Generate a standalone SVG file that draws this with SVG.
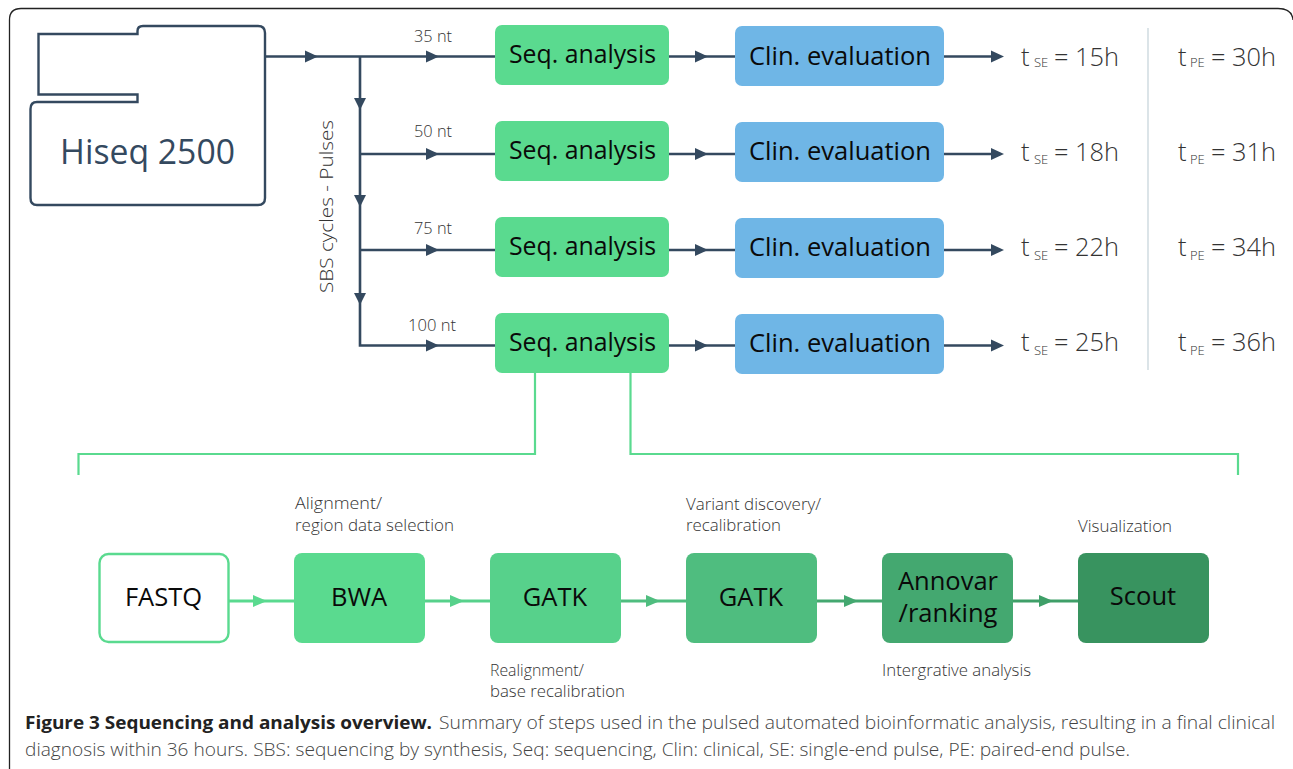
<svg xmlns="http://www.w3.org/2000/svg" width="1293" height="769" viewBox="0 0 1293 769">
<style>
text{font-family:"Open Sans","Noto Sans","Liberation Sans",sans-serif}
.c{fill:none;stroke:#34495f;stroke-width:2.600}
.g{fill:none;stroke:#5ada8f;stroke-width:2.200}
.box{font-size:25.500px;fill:#0a0a0a;text-anchor:middle}
.seq{font-size:25px;fill:#0a0a0a;text-anchor:middle}
.clin{font-size:26px;fill:#0a0a0a;text-anchor:middle}
.sm{font-size:15.500px;font-weight:300;fill:#333}
.lb{font-size:16.500px;font-weight:300;fill:#333}
.t{font-size:25.500px;font-weight:300;fill:#333}
.s{font-size:13px;font-weight:300;fill:#333}
.cap{font-size:17.600px;fill:#444;font-weight:300}
.ah{fill:#34495f}
</style>
<rect width="1293" height="769" fill="#fff"/>
<path d="M9.500,769V20Q9.500,8.500 21,8.500H1278Q1292,8.500 1293,20" fill="none" stroke="#222" stroke-width="1.300"/>
<g id="connectors">
<path class="c" d="M265,56.500H495M360,56.500V345.500H495M360,154H495M360,250H495M669,56.500H735M669,154H735M669,250H735M669,345.500H735M944,56.500H994M944,154H994M944,250H994M944,345.500H994"/>
<g class="ah">
<path d="M305,50.500L318,56.500L305,62.500Z"/><path d="M426,50.500L439,56.500L426,62.500Z"/><path d="M426,148L439,154L426,160Z"/><path d="M426,244L439,250L426,256Z"/><path d="M426,339.500L439,345.500L426,351.500Z"/>
<path d="M354,98L360,110L366,98Z"/><path d="M354,195L360,207L366,195Z"/><path d="M354,293L360,305L366,293Z"/>
<path d="M695,50.500L708,56.500L695,62.500Z"/><path d="M695,148L708,154L695,160Z"/><path d="M695,244L708,250L695,256Z"/><path d="M695,339.500L708,345.500L695,351.500Z"/>
<path d="M991,50.500L1004,56.500L991,62.500Z"/><path d="M991,148L1004,154L991,160Z"/><path d="M991,244L1004,250L991,256Z"/><path d="M991,339.500L1004,345.500L991,351.500Z"/>
</g>
<path class="g" d="M535,373V454H78.500V475M630.500,373V454H1238V475"/>
<path d="M228,601H294" stroke="#5ada8f" stroke-width="3" fill="none"/><path d="M253,595L267,601L253,607Z" fill="#5ada8f"/>
<path d="M424,601H490" stroke="#57d18b" stroke-width="3" fill="none"/><path d="M450,595L464,601L450,607Z" fill="#57d18b"/>
<path d="M620,601H686" stroke="#4fbd7f" stroke-width="3" fill="none"/><path d="M646,595L660,601L646,607Z" fill="#4fbd7f"/>
<path d="M816,601H882" stroke="#44a870" stroke-width="3" fill="none"/><path d="M844,595L858,601L844,607Z" fill="#44a870"/>
<path d="M1012,601H1078" stroke="#3f9f68" stroke-width="3" fill="none"/><path d="M1039,595L1053,601L1039,607Z" fill="#3f9f68"/>
<path d="M1148,28V370" stroke="#d3dee3" stroke-width="1.600" fill="none"/>
</g>
<g id="hiseq">
<path d="M38.500,34H137.500V31Q137.500,26 143,26H258Q265,26 265,33V198Q265,205 258,205H37Q30.500,205 30.500,198V109Q30.500,102 37,102H137.500V94.500H38.500Z" fill="#fff" stroke="#34495f" stroke-width="2.400"/>
<text x="147.500" y="164" font-size="34" fill="#34495f" text-anchor="middle" textLength="175" lengthAdjust="spacingAndGlyphs">Hiseq 2500</text>
</g>
<text transform="translate(333,293) rotate(-90)" font-size="18" font-weight="300" fill="#333" textLength="173" lengthAdjust="spacingAndGlyphs">SBS cycles - Pulses</text>
<text class="sm" x="414" y="42" textLength="38" lengthAdjust="spacingAndGlyphs">35 nt</text>
<text class="sm" x="414" y="137" textLength="38" lengthAdjust="spacingAndGlyphs">50 nt</text>
<text class="sm" x="414" y="234" textLength="38" lengthAdjust="spacingAndGlyphs">75 nt</text>
<text class="sm" x="408" y="331" textLength="48" lengthAdjust="spacingAndGlyphs">100 nt</text>
<g id="seq1"><rect x="495" y="25" width="174" height="60" rx="7" fill="#5ada8f"/><text class="seq" x="582.500" y="63" textLength="147" lengthAdjust="spacingAndGlyphs">Seq. analysis</text></g>
<g id="seq2"><rect x="495" y="121" width="174" height="60" rx="7" fill="#5ada8f"/><text class="seq" x="582.500" y="159" textLength="147" lengthAdjust="spacingAndGlyphs">Seq. analysis</text></g>
<g id="seq3"><rect x="495" y="217" width="174" height="60" rx="7" fill="#5ada8f"/><text class="seq" x="582.500" y="255" textLength="147" lengthAdjust="spacingAndGlyphs">Seq. analysis</text></g>
<g id="seq4"><rect x="495" y="313" width="174" height="60" rx="7" fill="#5ada8f"/><text class="seq" x="582.500" y="351" textLength="147" lengthAdjust="spacingAndGlyphs">Seq. analysis</text></g>
<g id="clin1"><rect x="735" y="26" width="209" height="60" rx="7" fill="#6fb6e6"/><text class="clin" x="840" y="65" textLength="182" lengthAdjust="spacingAndGlyphs">Clin. evaluation</text></g>
<g id="clin2"><rect x="735" y="122" width="209" height="60" rx="7" fill="#6fb6e6"/><text class="clin" x="840" y="160" textLength="182" lengthAdjust="spacingAndGlyphs">Clin. evaluation</text></g>
<g id="clin3"><rect x="735" y="218" width="209" height="60" rx="7" fill="#6fb6e6"/><text class="clin" x="840" y="256" textLength="182" lengthAdjust="spacingAndGlyphs">Clin. evaluation</text></g>
<g id="clin4"><rect x="735" y="314" width="209" height="60" rx="7" fill="#6fb6e6"/><text class="clin" x="840" y="352" textLength="182" lengthAdjust="spacingAndGlyphs">Clin. evaluation</text></g>
<g id="times">
<text class="t" x="1021" y="66">t</text><text class="s" x="1034" y="67">SE</text><text class="t" x="1054" y="66" textLength="65" lengthAdjust="spacingAndGlyphs">= 15h</text>
<text class="t" x="1178" y="66">t</text><text class="s" x="1190" y="67">PE</text><text class="t" x="1211" y="66" textLength="65" lengthAdjust="spacingAndGlyphs">= 30h</text>
<text class="t" x="1021" y="161">t</text><text class="s" x="1034" y="164">SE</text><text class="t" x="1054" y="161" textLength="65" lengthAdjust="spacingAndGlyphs">= 18h</text>
<text class="t" x="1178" y="161">t</text><text class="s" x="1190" y="164">PE</text><text class="t" x="1211" y="161" textLength="65" lengthAdjust="spacingAndGlyphs">= 31h</text>
<text class="t" x="1021" y="256">t</text><text class="s" x="1034" y="260">SE</text><text class="t" x="1054" y="256" textLength="65" lengthAdjust="spacingAndGlyphs">= 22h</text>
<text class="t" x="1178" y="256">t</text><text class="s" x="1190" y="260">PE</text><text class="t" x="1211" y="256" textLength="65" lengthAdjust="spacingAndGlyphs">= 34h</text>
<text class="t" x="1021" y="351">t</text><text class="s" x="1034" y="355">SE</text><text class="t" x="1054" y="351" textLength="65" lengthAdjust="spacingAndGlyphs">= 25h</text>
<text class="t" x="1178" y="351">t</text><text class="s" x="1190" y="355">PE</text><text class="t" x="1211" y="351" textLength="65" lengthAdjust="spacingAndGlyphs">= 36h</text>
</g>
<g id="fastq"><rect x="99.500" y="554" width="129" height="88" rx="9" fill="#fff" stroke="#5ada8f" stroke-width="2.400"/><text class="box" x="163.500" y="606">FASTQ</text></g>
<g id="bwa"><rect x="294" y="553" width="131" height="90" rx="8" fill="#5ada8f"/><text class="box" x="359" y="606">BWA</text></g>
<g id="gatk1"><rect x="490" y="553" width="131" height="90" rx="8" fill="#57d18b"/><text class="box" x="555" y="606">GATK</text></g>
<g id="gatk2"><rect x="686" y="553" width="131" height="90" rx="8" fill="#4fbd7f"/><text class="box" x="751" y="606">GATK</text></g>
<g id="annovar"><rect x="882" y="553" width="131" height="90" rx="8" fill="#44a870"/><text class="box" x="948" y="590">Annovar</text><text class="box" x="948" y="622">/ranking</text></g>
<g id="scout"><rect x="1078" y="553" width="131" height="90" rx="8" fill="#38935f"/><text class="box" x="1143" y="605">Scout</text></g>
<g id="labels">
<text class="lb" x="295" y="509" textLength="87" lengthAdjust="spacingAndGlyphs">Alignment/</text><text class="lb" x="295" y="531" textLength="159" lengthAdjust="spacingAndGlyphs">region data selection</text>
<text class="lb" x="686" y="510" textLength="135" lengthAdjust="spacingAndGlyphs">Variant discovery/</text><text class="lb" x="686" y="531" textLength="95" lengthAdjust="spacingAndGlyphs">recalibration</text>
<text class="lb" x="1078" y="532" textLength="94" lengthAdjust="spacingAndGlyphs">Visualization</text>
<text class="lb" x="490" y="676" textLength="94" lengthAdjust="spacingAndGlyphs">Realignment/</text><text class="lb" x="490" y="697" textLength="135" lengthAdjust="spacingAndGlyphs">base recalibration</text>
<text class="lb" x="882" y="676" textLength="149" lengthAdjust="spacingAndGlyphs">Intergrative analysis</text>
</g>
<text x="25" y="729" font-size="18" font-weight="700" fill="#222" textLength="407" lengthAdjust="spacingAndGlyphs">Figure 3 Sequencing and analysis overview.</text>
<text class="cap" x="439" y="729" textLength="836" lengthAdjust="spacingAndGlyphs">Summary of steps used in the pulsed automated bioinformatic analysis, resulting in a final clinical</text>
<text class="cap" x="25" y="756" textLength="1105" lengthAdjust="spacingAndGlyphs">diagnosis within 36 hours. SBS: sequencing by synthesis, Seq: sequencing, Clin: clinical, SE: single-end pulse, PE: paired-end pulse.</text>
</svg>
